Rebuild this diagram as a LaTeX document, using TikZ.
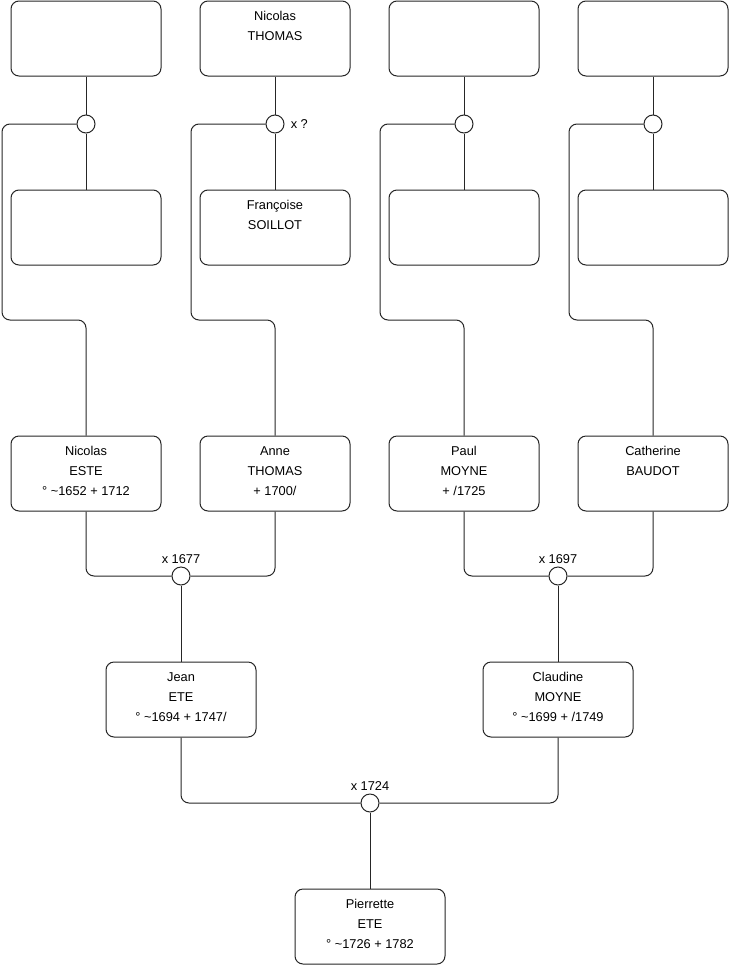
\documentclass[tikz,border=0pt]{standalone}
\usepackage{fontspec}
\setmainfont{Liberation Sans}
\usetikzlibrary{positioning}

\newcommand{\who}[1]{\begin{tabular}[t]{@{}c@{}}#1\end{tabular}}

\begin{document}
\begin{tikzpicture}[
  x=0.75pt, y=-0.75pt,
  person/.style={draw=black!85, line width=0.75pt, rounded corners=6pt, fill=white,
    minimum width=112.5pt, inner sep=0pt,
    text height=14.25pt, text depth=42pt, font={\fontsize{9.6}{15}\selectfont}},
  union/.style={circle, draw=black!85, line width=0.75pt, fill=white, minimum size=13.5pt, inner sep=0pt},
  link/.style={draw=black!85, line width=0.75pt, rounded corners=6pt},
  note/.style={font={\fontsize{9.6}{11}\selectfont}, inner sep=1pt}
]
\useasboundingbox (0,0) rectangle (740,975);
% great-grandparents
\node[person] (p1) at (86,38.5) {};
\node[person] (p2) at (275,38.5) {\who{Nicolas\\THOMAS}};
\node[person] (p3) at (464,38.5) {};
\node[person] (p4) at (653,38.5) {};
\node[union] (u1) at (86,124) {};
\node[union] (u2) at (275,124) {};
\node[union] (u3) at (464,124) {};
\node[union] (u4) at (653,124) {};
\node[note, right=3.5pt of u2] (q2) {x ?};
\node[person] (m1) at (86,227.5) {};
\node[person] (m2) at (275,227.5) {\who{Françoise\\SOILLOT}};
\node[person] (m3) at (464,227.5) {};
\node[person] (m4) at (653,227.5) {};
% grandparents
\node[person] (g1) at (86,473.5) {\who{Nicolas\\ESTE\\° \textasciitilde1652 + 1712}};
\node[person] (g2) at (275,473.5) {\who{Anne\\THOMAS\\+ 1700/}};
\node[person] (g3) at (464,473.5) {\who{Paul\\MOYNE\\+ /1725}};
\node[person] (g4) at (653,473.5) {\who{Catherine\\BAUDOT}};
\node[union] (w1) at (181,576) {};
\node[union] (w2) at (558,576) {};
\node[note, above=1pt of w1] (d1) {x 1677};
\node[note, above=1pt of w2] (d2) {x 1697};
% parents
\node[person] (f) at (181,699.5) {\who{Jean\\ETE\\° \textasciitilde1694 + 1747/}};
\node[person] (m) at (558,699.5) {\who{Claudine\\MOYNE\\° \textasciitilde1699 + /1749}};
\node[union] (w0) at (370,803) {};
\node[note, above=1pt of w0] (d0) {x 1724};
\node[person] (c) at (370,926.5) {\who{Pierrette\\ETE\\° \textasciitilde1726 + 1782}};

\foreach \i/\x in {1/2,2/191,3/380,4/569} {
  \draw[link] (p\i.south) -- (u\i.north);
  \draw[link] (u\i.south) -- (m\i.north);
  \draw[link] (u\i.west) -| (\x,320) -| (g\i.north);
}
\draw[link] (g1.south) |- (w1.west);
\draw[link] (g2.south) |- (w1.east);
\draw[link] (w1.south) -- (f.north);
\draw[link] (g3.south) |- (w2.west);
\draw[link] (g4.south) |- (w2.east);
\draw[link] (w2.south) -- (m.north);
\draw[link] (f.south) |- (w0.west);
\draw[link] (m.south) |- (w0.east);
\draw[link] (w0.south) -- (c.north);
\end{tikzpicture}
\end{document}
